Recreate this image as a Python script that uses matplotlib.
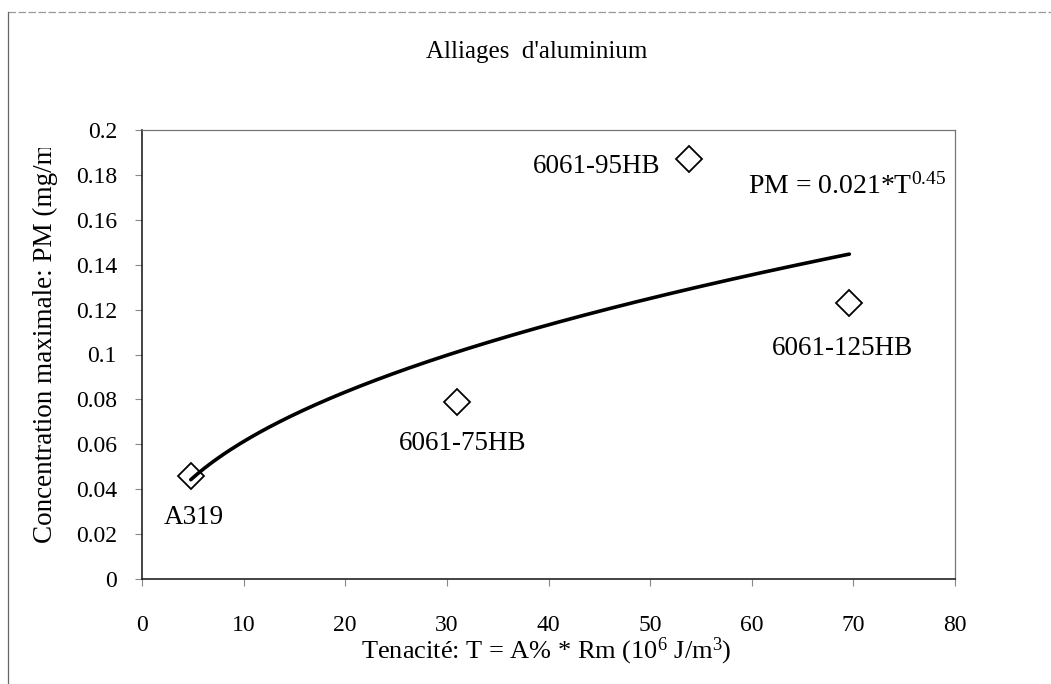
import matplotlib
matplotlib.use("Agg")
import matplotlib.pyplot as plt
import numpy as np
from matplotlib.lines import Line2D
from matplotlib.transforms import Bbox, TransformedBbox

alloys = ["A319", "6061-75HB", "6061-95HB", "6061-125HB"]
toughness = [4.8, 31.0, 53.8, 69.6]
concentration = [0.046, 0.079, 0.187, 0.123]

x_ticks = [0, 10, 20, 30, 40, 50, 60, 70, 80]
y_ticks = [0, 0.02, 0.04, 0.06, 0.08, 0.1, 0.12, 0.14, 0.16, 0.18, 0.2]
y_tick_labels = ["0", "0.02", "0.04", "0.06", "0.08", "0.1", "0.12", "0.14", "0.16", "0.18", "0.2"]

plt.rcParams["font.family"] = ["Liberation Serif", "DejaVu Serif"]
plt.rcParams["mathtext.fontset"] = "custom"
plt.rcParams["mathtext.rm"] = "Liberation Serif"
plt.rcParams["mathtext.it"] = "Liberation Serif"

W, H = 1051, 684
fig = plt.figure(figsize=(W / 100, H / 100), dpi=100)
ax = fig.add_axes([142 / W, 1 - 579 / H, (955 - 142) / W, (579 - 130) / H])

# power trendline fitted to the points (Excel style)
b, a = np.polyfit(np.log(toughness), np.log(concentration), 1)
t = np.linspace(min(toughness), max(toughness), 200)
ax.plot(t, np.exp(a) * t ** b, color="black", lw=2.6, zorder=4, solid_capstyle="round")

ax.plot(toughness, concentration, linestyle="none", marker="D", ms=13,
        mfc="white", mec="black", mew=1.3, zorder=3)

offsets = {
    "A319": (2, -30, "center"),
    "6061-75HB": (4, -30, "center"),
    "6061-95HB": (-20, -5, "right"),
    "6061-125HB": (-5, -33, "center"),
}
for name, x, y in zip(alloys, toughness, concentration):
    dx, dy, ha = offsets[name]
    ax.annotate(name, (x, y), xytext=(dx, dy), textcoords="offset points",
                ha=ha, va="center", fontsize=19.5)

ax.text(59.6, 0.175, r"PM = 0.021*T$^{0.45}$", fontsize=20, va="center", ha="left")

ax.set_xlim(0, 80)
ax.set_ylim(0, 0.2)
ax.set_xticks(x_ticks)
ax.set_yticks(y_ticks)
ax.set_yticklabels(y_tick_labels)
ax.tick_params(axis="both", direction="out", length=5, color="#888888", labelsize=17)
ax.tick_params(axis="y", pad=13)
ax.tick_params(axis="x", pad=21)

for side in ["top", "right"]:
    ax.spines[side].set_color("#777777")
    ax.spines[side].set_linewidth(0.9)
for side in ["left", "bottom"]:
    ax.spines[side].set_color("#222222")
    ax.spines[side].set_linewidth(1.2)

fig.text(537 / W, 1 - 52 / H, "Alliages  d'aluminium", ha="center", va="center", fontsize=18)
fig.text(546 / W, 1 - 651 / H, r"Tenacité: T = A% * Rm (10$^{6}$ J/m$^{3}$)",
         ha="center", va="center", fontsize=19)

# the reference's axis title is too long and gets cut at the top
ylab = fig.text(45 / W, 1 - 543 / H, "Concentration maximale: PM (mg/m³)",
                rotation=90, ha="center", va="bottom", fontsize=19.5)
ylab.set_clip_box(TransformedBbox(Bbox([[0, 0], [1, 1 - 148 / H]]), fig.transFigure))
ylab.set_clip_on(True)

# outer chart-area border (only top and left visible)
fig.add_artist(Line2D([8 / W, 1], [1 - 12 / H, 1 - 12 / H], color="#999999", lw=0.9,
                      linestyle=(0, (6, 2))))
fig.add_artist(Line2D([8 / W, 8 / W], [0, 1 - 12 / H], color="#666666", lw=0.9))

fig.savefig("out.png", dpi=100)
